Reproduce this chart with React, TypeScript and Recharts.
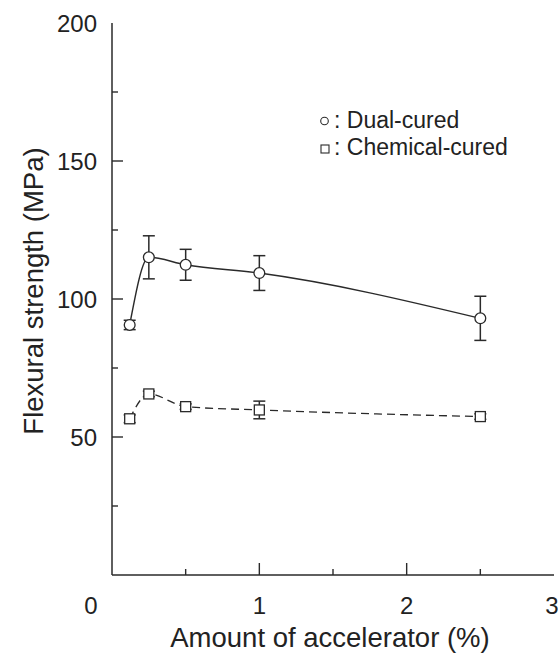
import React from 'react';
import {
  ComposedChart,
  Line,
  ErrorBar,
  XAxis,
  YAxis,
  Legend,
} from 'recharts';

const accelerator = [0.12, 0.25, 0.5, 1.0, 2.5];
const dualCured = [90.6, 115.1, 112.4, 109.4, 93.0];
const dualCuredErr = [1.7, 7.8, 5.6, 6.3, 8.0];
const chemicalCured = [56.6, 65.6, 61.0, 59.8, 57.4];
const chemicalCuredErr = [1.4, 1.0, 1.0, 3.2, 1.0];

const xTicks = [0, 0.5, 1, 1.5, 2, 2.5, 3];
const yTicks = [0, 25, 50, 75, 100, 125, 150, 175, 200];

const rows = accelerator.map((x, i) => ({
  x,
  dual: dualCured[i],
  dualErr: dualCuredErr[i],
  chem: chemicalCured[i],
  chemErr: chemicalCuredErr[i],
}));

const INK = '#2a2a2a';
const FONT = '"Liberation Sans", Arial, sans-serif';

function BottomTick(props: any) {
  const { x, y, payload } = props;
  const v = payload.value;
  const major = Number.isInteger(v);
  // the original figure sets its end labels a little off their ticks
  const shift = v === 0 ? -21 : v === 3 ? -2 : 0;
  return (
    <g>
      {v > 0 && v < 3 && (
        <line x1={x} x2={x} y1={y} y2={y - (major ? 12 : 6)} stroke={INK} strokeWidth={1.4} />
      )}
      {major && (
        <text x={x + shift} y={y + 39} textAnchor="middle" fontSize={24} fontFamily={FONT} fill="#222">
          {v}
        </text>
      )}
    </g>
  );
}

function LeftTick(props: any) {
  const { x, y, payload } = props;
  const v = payload.value;
  const major = v % 50 === 0;
  return (
    <g>
      {v > 0 && v < 200 && (
        <line x1={x} x2={x + (major ? 11 : 6)} y1={y} y2={y} stroke={INK} strokeWidth={1.4} />
      )}
      {major && v > 0 && (
        <text x={x - 15} y={y + 9} textAnchor="end" fontSize={24} fontFamily={FONT} fill="#222">
          {v}
        </text>
      )}
    </g>
  );
}

function TopTick(props: any) {
  const { x, y, payload } = props;
  const v = payload.value;
  if (v <= 0 || v >= 3) return <g />;
  return <line x1={x} x2={x} y1={y} y2={y + 3} stroke={INK} strokeWidth={1.2} />;
}

function RightTick(props: any) {
  const { x, y, payload } = props;
  const v = payload.value;
  if (v <= 0 || v >= 200) return <g />;
  return <line x1={x} x2={x - 3} y1={y} y2={y} stroke={INK} strokeWidth={1.2} />;
}

function XTitle(props: any) {
  const { viewBox } = props;
  return (
    <text
      x={viewBox.x + viewBox.width / 2 - 3}
      y={viewBox.y + viewBox.height - 10}
      textAnchor="middle"
      fontSize={27.5}
      fontFamily={FONT}
      fill="#222"
    >
      Amount of accelerator (%)
    </text>
  );
}

function YTitle(props: any) {
  const { viewBox } = props;
  const cx = 33;
  const cy = viewBox.y + viewBox.height / 2 - 8;
  return (
    <text
      x={cx}
      y={cy}
      transform={`rotate(-90, ${cx}, ${cy})`}
      textAnchor="middle"
      dominantBaseline="central"
      fontSize={27.5}
      fontFamily={FONT}
      fill="#222"
    >
      Flexural strength (MPa)
    </text>
  );
}

function CircleDot(props: any) {
  const { cx, cy, index } = props;
  return <circle key={`c-${index}`} cx={cx} cy={cy} r={5.4} fill="#fff" stroke={INK} strokeWidth={1.3} />;
}

function SquareDot(props: any) {
  const { cx, cy, index } = props;
  return (
    <rect key={`s-${index}`} x={cx - 5} y={cy - 5} width={10} height={10} fill="#fff" stroke={INK} strokeWidth={1.3} />
  );
}

function LegendBox() {
  return (
    <svg width={240} height={64}>
      <circle cx={6.5} cy={21} r={3.8} fill="#fff" stroke={INK} strokeWidth={1.1} />
      <text x={16} y={28} fontSize={23} fontFamily={FONT} fill="#222">
        : Dual-cured
      </text>
      <rect x={3} y={45} width={8} height={8} fill="#fff" stroke={INK} strokeWidth={1.1} />
      <text x={16} y={55} fontSize={23} fontFamily={FONT} fill="#222">
        : Chemical-cured
      </text>
    </svg>
  );
}

export default function App() {
  return (
    <div style={{ position: 'absolute', left: 0, top: 0, width: 560, height: 657, background: '#fff' }}>
      <ComposedChart width={560} height={657} data={rows} margin={{ top: 23, right: 6, left: 0, bottom: 0 }}>
        <XAxis
          xAxisId="bottom"
          dataKey="x"
          type="number"
          domain={[0, 3]}
          ticks={xTicks}
          interval={0}
          allowDataOverflow
          height={82}
          tickSize={0}
          tickMargin={0}
          tickLine={false}
          axisLine={{ stroke: INK, strokeWidth: 1.5 }}
          tick={<BottomTick />}
          label={<XTitle />}
        />
        <XAxis
          xAxisId="top"
          orientation="top"
          type="number"
          domain={[0, 3]}
          ticks={xTicks}
          interval={0}
          allowDataOverflow
          height={0}
          tickSize={0}
          tickMargin={0}
          tickLine={false}
          axisLine={{ stroke: INK, strokeWidth: 1.5 }}
          tick={<TopTick />}
        />
        <YAxis
          yAxisId="left"
          type="number"
          domain={[0, 200]}
          ticks={yTicks}
          interval={0}
          allowDataOverflow
          width={112}
          tickSize={0}
          tickMargin={0}
          tickLine={false}
          axisLine={{ stroke: INK, strokeWidth: 1.5 }}
          tick={<LeftTick />}
          label={<YTitle />}
        />
        <YAxis
          yAxisId="right"
          orientation="right"
          type="number"
          domain={[0, 200]}
          ticks={yTicks}
          interval={0}
          allowDataOverflow
          width={0}
          tickSize={0}
          tickMargin={0}
          tickLine={false}
          axisLine={{ stroke: INK, strokeWidth: 1.5 }}
          tick={<RightTick />}
        />
        <Legend
          layout="vertical"
          align="center"
          verticalAlign="middle"
          wrapperStyle={{ left: 318, top: 100, width: 240, height: 64 }}
          content={<LegendBox />}
        />
        <Line
          xAxisId="bottom"
          yAxisId="left"
          type="monotone"
          dataKey="dual"
          name="Dual-cured"
          stroke={INK}
          strokeWidth={1.4}
          dot={CircleDot}
          activeDot={false}
          isAnimationActive={false}
        >
          <ErrorBar dataKey="dualErr" direction="y" width={6} stroke={INK} strokeWidth={1.5} />
        </Line>
        <Line
          xAxisId="bottom"
          yAxisId="left"
          type="monotone"
          dataKey="chem"
          name="Chemical-cured"
          stroke={INK}
          strokeWidth={1.3}
          strokeDasharray="8 5"
          dot={SquareDot}
          activeDot={false}
          isAnimationActive={false}
        >
          <ErrorBar dataKey="chemErr" direction="y" width={6} stroke={INK} strokeWidth={1.5} />
        </Line>
      </ComposedChart>
    </div>
  );
}
